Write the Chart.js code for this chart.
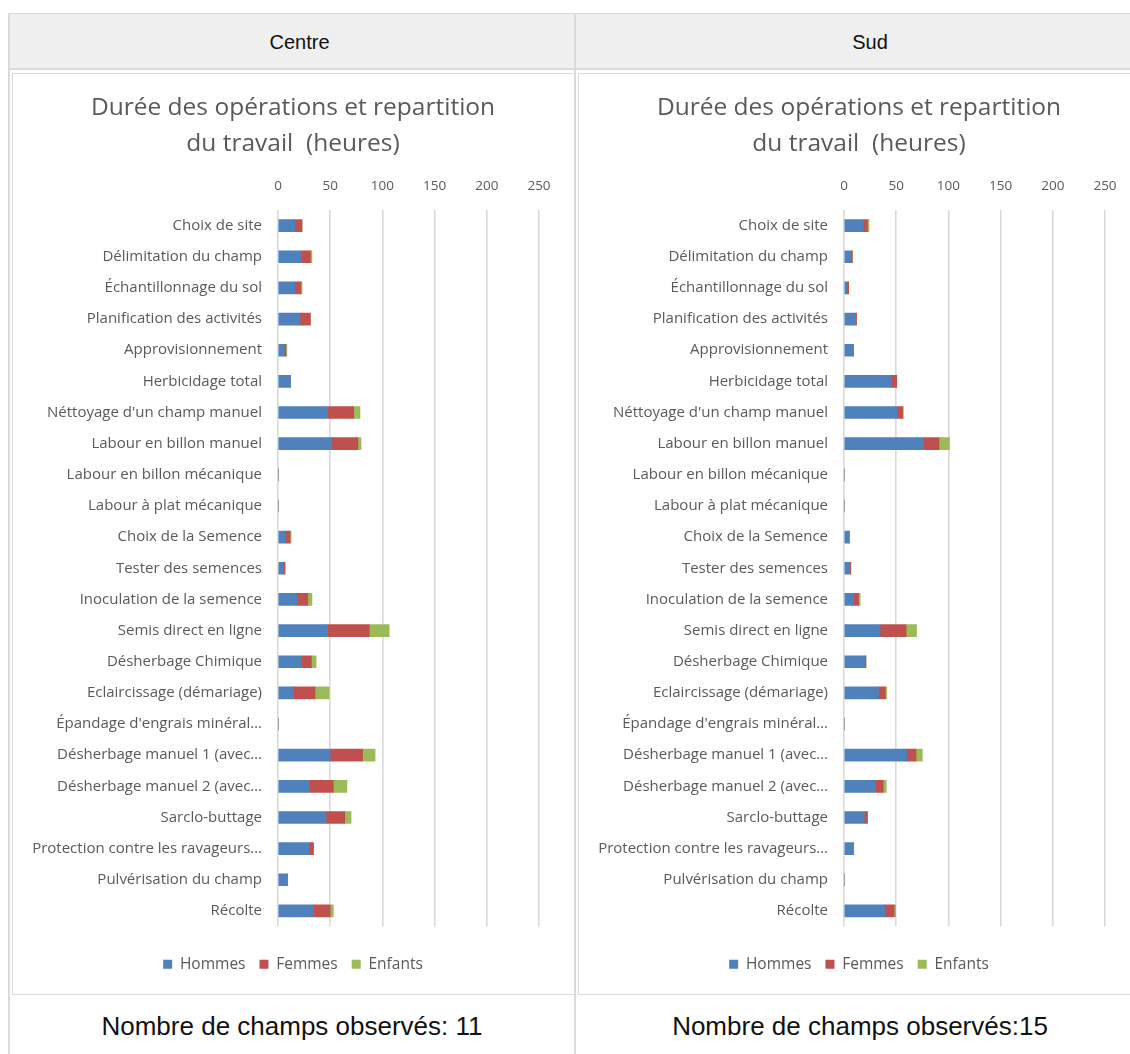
<!DOCTYPE html>
<html>
<head>
<meta charset="utf-8">
<title>Durée des opérations et repartition du travail</title>
<script src="https://cdn.jsdelivr.net/npm/chart.js@4.4.1/dist/chart.umd.min.js"></script>
<style>
    html, body {
        margin: 0;
        padding: 0;
        background: #ffffff;
        overflow: hidden;
        width: 1130px;
        height: 1054px;
    }
    .box {
        position: absolute;
        box-sizing: border-box;
    }
    .line {
        position: absolute;
        background: #dadada;
    }
    .head {
        background: #efefef;
        font-family: "Liberation Sans", Arial, sans-serif;
        font-size: 20px;
        color: #111111;
        text-align: center;
        line-height: 56px;
    }
    .foot {
        font-family: "Liberation Sans", Arial, sans-serif;
        font-size: 26px;
        color: #111111;
        text-align: center;
        white-space: nowrap;
    }
    .chartbox {
        border: 1px solid #d9d9d9;
        background: #ffffff;
    }
    canvas {
        position: absolute;
    }
</style>
</head>
<body>

<!-- header row -->
<div class="box head" style="left:9px; top:14px; width:565px; height:54px;"><span style="position:relative; left:8px;">Centre</span></div>
<div class="box head" style="left:576px; top:14px; width:588px; height:54px;">Sud</div>

<!-- table borders -->
<div class="line" style="left:8px; top:13px; width:1130px; height:1px;"></div>
<div class="line" style="left:8px; top:68px; width:1130px; height:2px;"></div>
<div class="line" style="left:8px; top:13px; width:2px; height:1041px;"></div>
<div class="line" style="left:574px; top:13px; width:2px; height:1041px;"></div>

<!-- chart boxes -->
<div class="box chartbox" style="left:12px; top:73px; width:563px; height:922px;"></div>
<div class="box chartbox" style="left:578px; top:73px; width:600px; height:922px;"></div>

<div style="position:absolute; left:13px; top:74px; width:560px; height:920px;">
    <canvas id="chart-centre"></canvas>
</div>
<div style="position:absolute; left:579px; top:74px; width:560px; height:920px;">
    <canvas id="chart-sud"></canvas>
</div>

<!-- footer row -->
<div class="box foot" style="left:10px; top:1011px; width:564px;">Nombre de champs observés: 11</div>
<div class="box foot" style="left:576px; top:1011px; width:568px;">Nombre de champs observés:15</div>

<script>
// operations (as shown on the axis, long ones are cut by excel)
const categories = [
    'Choix de site',
    'Délimitation du champ',
    'Échantillonnage du sol',
    'Planification des activités',
    'Approvisionnement',
    'Herbicidage total',
    "Néttoyage d'un champ manuel",
    'Labour en billon manuel',
    'Labour en billon mécanique',
    'Labour à plat mécanique',
    'Choix de la Semence',
    'Tester des semences',
    'Inoculation de la semence',
    'Semis direct en ligne',
    'Désherbage Chimique',
    'Eclaircissage (démariage)',
    "Épandage d'engrais minéral…",
    'Désherbage manuel 1 (avec…',
    'Désherbage manuel 2 (avec…',
    'Sarclo-buttage',
    'Protection contre les ravageurs…',
    'Pulvérisation du champ',
    'Récolte'
];

// hours - centre
const centreHommes = [16, 22, 16, 21, 6, 12, 47.5, 51.5, 0, 0, 7.5, 5, 18, 47.5, 22, 15, 0, 50, 29.5, 46, 29.5, 9, 34];
const centreFemmes = [7, 9, 6, 10, 1.5, 0, 25, 25, 0, 0, 4, 1.5, 10.5, 40, 10, 20.5, 0, 31, 23.5, 18, 4.5, 0, 16];
const centreEnfants = [0, 1.5, 1, 0, 1, 0, 6, 3, 0, 0, 1, 0.5, 4, 19, 4.5, 13.5, 0, 12, 13, 6, 0, 0, 3];

// hours - sud
const sudHommes = [18.5, 7, 3, 11, 9, 45, 51, 76, 0, 0, 5, 5.5, 9, 34.5, 20, 33, 0, 60, 30, 19.5, 9, 0, 39];
const sudFemmes = [4, 1, 1.5, 1, 0, 5.5, 5.5, 15, 0, 0, 0, 1, 5, 25, 1, 6.5, 0, 9, 7.5, 3, 0, 0, 9];
const sudEnfants = [1.5, 0, 0, 0, 0, 0, 0, 10, 0, 0, 0, 0, 1.5, 10, 0, 1.5, 0, 6, 3, 0, 0, 0, 1.5];

// axis
const xTicks = [0, 50, 100, 150, 200, 250];
const seriesNames = ['Hommes', 'Femmes', 'Enfants'];
const titleLines = ['Durée des opérations et repartition', 'du travail  (heures)'];

// excel 2007 colours
const COLOR_BLUE = '#4f81bd';
const COLOR_RED = '#c0504d';
const COLOR_GREEN = '#9bbb59';
const COLOR_TEXT = '#595959';
const COLOR_GRID = '#d9d9d9';
const FONT = '"Open Sans", Lato, sans-serif';


// an axis that shows nothing, only used to keep some empty space
function spacerAxis(position, size) {
    return {
        type: 'linear',
        position: position,
        display: true,
        afterFit: function(scale) {
            if (scale.isHorizontal()) {
                scale.height = size;
            } else {
                scale.width = size;
            }
        },
        ticks: { display: false },
        grid: { display: false, drawTicks: false },
        border: { display: false }
    };
}


function makeChart(canvasId, hommes, femmes, enfants) {
    const ctx = document.getElementById(canvasId).getContext('2d');
    const colors = [COLOR_BLUE, COLOR_RED, COLOR_GREEN];
    const values = [hommes, femmes, enfants];

    const datasets = [];
    for (let i = 0; i < seriesNames.length; i++) {
        datasets.push({
            label: seriesNames[i],
            data: values[i],
            backgroundColor: colors[i],
            borderWidth: 0,
            barThickness: 12
        });
    }

    return new Chart(ctx, {
        type: 'bar',
        data: { labels: categories, datasets: datasets },
        options: {
            responsive: true,
            maintainAspectRatio: false,
            animation: false,
            indexAxis: 'y',
            layout: { padding: { top: 0, bottom: 12, left: 0, right: 0 } },
            plugins: {
                title: {
                    display: true,
                    text: titleLines,
                    color: COLOR_TEXT,
                    font: { family: FONT, size: 24.5, weight: 'normal', lineHeight: 1.47 },
                    padding: { top: 16, bottom: 10 }
                },
                legend: {
                    position: 'bottom',
                    labels: {
                        color: COLOR_TEXT,
                        font: { family: FONT, size: 15.5 },
                        boxWidth: 9,
                        boxHeight: 9,
                        padding: 14
                    }
                },
                tooltip: { enabled: false }
            },
            scales: {
                x: {
                    position: 'top',
                    stacked: true,
                    min: xTicks[0],
                    max: xTicks[xTicks.length - 1],
                    afterBuildTicks: function(scale) {
                        scale.ticks = xTicks.map(function(v) { return { value: v }; });
                    },
                    afterFit: function(scale) { scale.height = 38; },
                    ticks: {
                        color: COLOR_TEXT,
                        font: { family: FONT, size: 13.5 },
                        padding: 16
                    },
                    grid: { color: COLOR_GRID, lineWidth: 1.6, drawTicks: false },
                    border: { display: false }
                },
                y: {
                    stacked: true,
                    afterFit: function(scale) { scale.width = 265; },
                    ticks: {
                        color: COLOR_TEXT,
                        font: { family: FONT, size: 15 },
                        padding: 16,
                        autoSkip: false
                    },
                    grid: { display: false, drawTicks: false },
                    border: { display: false }
                },
                // gap after 250 and under the last bar
                padRight: spacerAxis('right', 34),
                padBottom: spacerAxis('bottom', 16)
            }
        }
    });
}

makeChart('chart-centre', centreHommes, centreFemmes, centreEnfants);
makeChart('chart-sud', sudHommes, sudFemmes, sudEnfants);
</script>
</body>
</html>
